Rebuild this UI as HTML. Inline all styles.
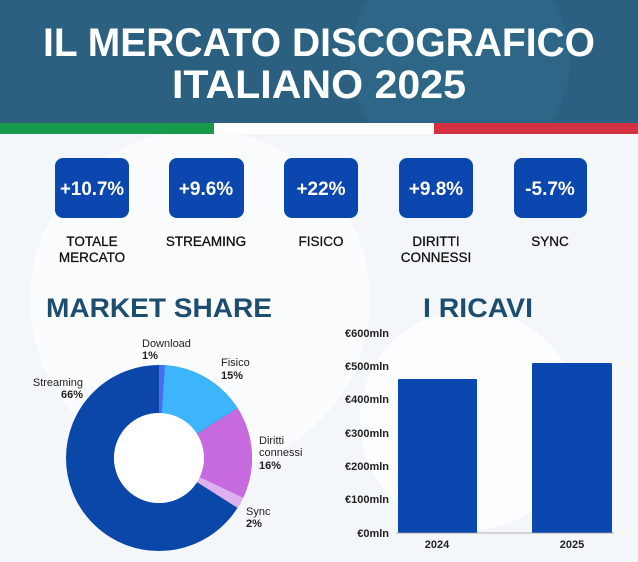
<!DOCTYPE html>
<html><head><meta charset="utf-8"><style>
html,body{margin:0;padding:0;width:638px;height:562px;overflow:hidden;background:#f4f7fa;}
svg{display:block}
</style></head><body>
<svg width="638" height="562" viewBox="0 0 638 562" xmlns="http://www.w3.org/2000/svg" font-family="Liberation Sans, sans-serif">
<defs><clipPath id="hc"><rect x="0" y="0" width="638" height="123"/></clipPath></defs>
<rect width="638" height="562" fill="#f4f7fa"/>
<circle cx="200" cy="300" r="170" fill="#ffffff" opacity="0.6"/>
<circle cx="470" cy="420" r="110" fill="#ffffff" opacity="0.7"/>
<rect x="0" y="0" width="638" height="124" fill="#2b6080"/>
<circle cx="460" cy="60" r="110" fill="#2f6a8b" opacity="0.6" clip-path="url(#hc)"/>
<rect x="0" y="123" width="214" height="11" fill="#16994a"/>
<rect x="214" y="123" width="220" height="11" fill="#ffffff"/>
<rect x="434" y="123" width="204" height="11" fill="#d3313f"/>
<g fill="#ffffff" font-weight="bold" font-size="40" text-anchor="middle">
<text x="319" y="56" textLength="552" lengthAdjust="spacingAndGlyphs">IL MERCATO DISCOGRAFICO</text>
<text x="319" y="98" textLength="294" lengthAdjust="spacingAndGlyphs">ITALIANO 2025</text>
</g>
<g fill="#0b47ae">
<rect x="55" y="158" width="74" height="60" rx="8"/>
<rect x="169" y="158" width="75" height="60" rx="8"/>
<rect x="284" y="158" width="74" height="60" rx="8"/>
<rect x="399" y="158" width="74" height="60" rx="8"/>
<rect x="514" y="158" width="73" height="60" rx="8"/>
</g>
<g fill="#fff" font-weight="bold" font-size="19" text-anchor="middle">
<text x="92" y="195" textLength="64" lengthAdjust="spacingAndGlyphs">+10.7%</text>
<text x="206" y="195">+9.6%</text>
<text x="321" y="195">+22%</text>
<text x="436" y="195">+9.8%</text>
<text x="550" y="195">-5.7%</text>
</g>
<g fill="#111" font-size="13.5" text-anchor="middle" stroke="#111" stroke-width="0.3">
<text x="92" y="246">TOTALE</text><text x="92" y="262">MERCATO</text>
<text x="206" y="246">STREAMING</text>
<text x="321" y="246">FISICO</text>
<text x="436" y="246">DIRITTI</text><text x="436" y="262">CONNESSI</text>
<text x="550" y="246">SYNC</text>
</g>
<g fill="#1d4e70" font-weight="bold" font-size="27" text-anchor="middle">
<text x="159" y="317" textLength="226" lengthAdjust="spacingAndGlyphs">MARKET SHARE</text>
<text x="478" y="317" textLength="110" lengthAdjust="spacingAndGlyphs">I RICAVI</text>
</g>
<g transform="translate(159,458)">
<circle r="69" fill="none" stroke="#0a47a9" stroke-width="48"/>
<g fill="none" stroke-width="48" transform="rotate(-90)">
<circle r="69" stroke="#4a6cf2" stroke-dasharray="4.34 1000"/>
<circle r="69" stroke="#3cb5fd" stroke-dasharray="0 4.34 65 1000"/>
<circle r="69" stroke="#c76ae0" stroke-dasharray="0 69.34 69.4 1000"/>
<circle r="69" stroke="#dfb0f0" stroke-dasharray="0 138.7 8.7 1000"/>
</g>
<circle r="45" fill="#fff"/>
</g>
<g font-size="11" fill="#222">
<text x="142" y="347">Download</text><text x="142" y="359" font-weight="bold">1%</text>
<text x="221" y="366">Fisico</text><text x="221" y="379" font-weight="bold">15%</text>
<text x="259" y="444">Diritti</text><text x="259" y="456">connessi</text><text x="259" y="469" font-weight="bold">16%</text>
<text x="246" y="515">Sync</text><text x="246" y="527" font-weight="bold">2%</text>
<text x="83" y="386" text-anchor="end">Streaming</text><text x="83" y="398" text-anchor="end" font-weight="bold">66%</text>
</g>
<g font-size="11" font-weight="bold" fill="#222" text-anchor="end">
<text x="389" y="337">€600mln</text>
<text x="389" y="370">€500mln</text>
<text x="389" y="403">€400mln</text>
<text x="389" y="437">€300mln</text>
<text x="389" y="470">€200mln</text>
<text x="389" y="503">€100mln</text>
<text x="389" y="537">€0mln</text>
</g>
<rect x="398" y="379" width="79" height="154" fill="#0a47ae" rx="1"/>
<rect x="532" y="363" width="80" height="170" fill="#0a47ae" rx="1"/>
<line x1="396" y1="533" x2="614" y2="533" stroke="#999" stroke-width="0.8"/>
<g font-size="11" font-weight="bold" fill="#222" text-anchor="middle">
<text x="437" y="548">2024</text><text x="572" y="548">2025</text>
</g>
</svg>
</body></html>
